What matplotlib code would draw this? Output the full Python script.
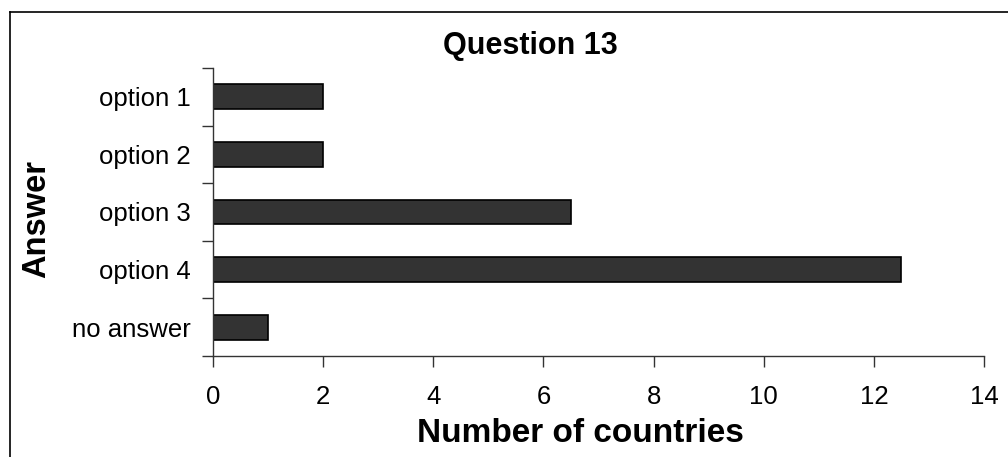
import numpy as np
import matplotlib.pyplot as plt
from matplotlib.lines import Line2D

plt.rcParams['font.family'] = ['Liberation Sans', 'DejaVu Sans']

categories = ['option 1', 'option 2', 'option 3', 'option 4', 'no answer']
counts = [2, 2, 6.5, 12.5, 1]

W, H = 1008, 457
fig = plt.figure(figsize=(W / 100, H / 100), dpi=100)
ax = fig.add_axes([213 / W, 1 - 356 / H, (984 - 213) / W, (356 - 68) / H])

y = np.arange(len(categories))
ax.barh(y, counts, height=0.43, color='#333333', edgecolor='black', linewidth=1.2)

ax.set_ylim(len(categories) - 0.5, -0.5)
ax.set_xlim(0, 14)
ax.set_xticks(range(0, 15, 2))
ax.set_yticks(y)
ax.set_yticklabels(categories)
ax.set_yticks(np.arange(-0.5, len(categories)), minor=True)

ax.tick_params(axis='y', which='major', length=0, pad=16, labelsize=18.5)
ax.tick_params(axis='y', which='minor', length=8, width=1, color='#333333')
ax.tick_params(axis='x', length=8, width=1, color='#333333', pad=13, labelsize=18.5)

for s in ['top', 'right']:
    ax.spines[s].set_visible(False)
for s in ['left', 'bottom']:
    ax.spines[s].set_color('#333333')
    ax.spines[s].set_linewidth(1)

fig.text(530 / W, 1 - 46 / H, 'Question 13', fontsize=22, fontweight='bold',
         ha='center', va='center')
fig.text(580 / W, 1 - 433 / H, 'Number of countries', fontsize=24, fontweight='bold',
         ha='center', va='center')
fig.text(37 / W, 1 - 219 / H, 'Answer', fontsize=23.5, fontweight='bold',
         ha='center', va='center', rotation=90)

# outer frame (left and top edges visible)
fig.add_artist(Line2D([10 / W, 10 / W], [0, 1 - 12 / H], transform=fig.transFigure,
                      color='black', linewidth=1.2))
fig.add_artist(Line2D([10 / W, 1], [1 - 12 / H, 1 - 12 / H], transform=fig.transFigure,
                      color='black', linewidth=1.2))

fig.savefig('out.png', dpi=100)
